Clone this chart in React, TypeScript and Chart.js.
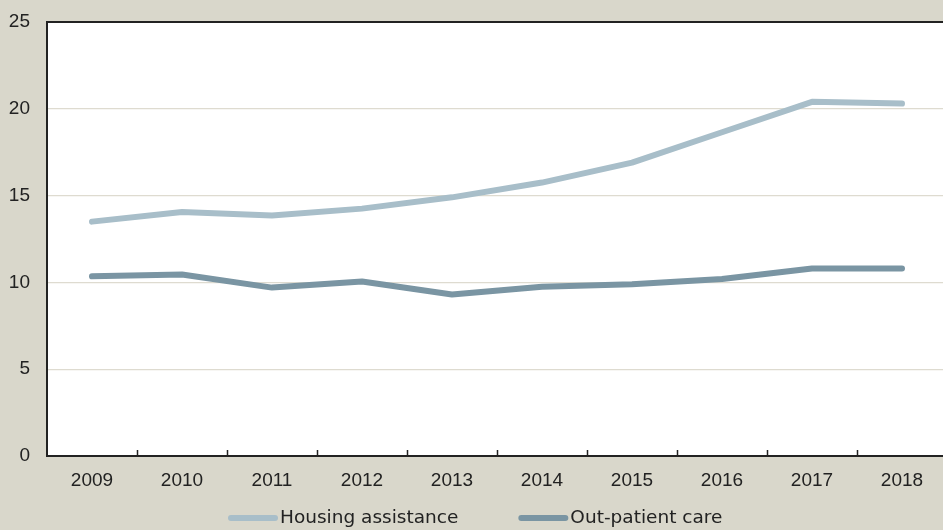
import React, { useEffect, useRef } from "react";
import { Chart, registerables } from "chart.js";

Chart.register(...registerables);

const years = ["2009", "2010", "2011", "2012", "2013", "2014", "2015", "2016", "2017", "2018"];
const housingAssistance = [13.5, 14.05, 13.85, 14.25, 14.9, 15.75, 16.9, 18.65, 20.4, 20.3];
const outPatientCare = [10.35, 10.45, 9.7, 10.05, 9.3, 9.75, 9.9, 10.2, 10.8, 10.8];
const yTicks = [0, 5, 10, 15, 20, 25];

const BG = "#d9d7cb";
const TICK_FONT = "'Liberation Sans', Arial, sans-serif";
const LEGEND_FONT = "'DejaVu Sans', sans-serif";

const insideTicks = {
  id: "insideTicks",
  afterDraw(chart: any) {
    const x = chart.scales.x;
    const ctx = chart.ctx;
    const bottom = chart.chartArea.bottom;
    const step = x.getPixelForValue(1) - x.getPixelForValue(0);
    ctx.save();
    ctx.strokeStyle = "#222";
    ctx.lineWidth = 1.5;
    for (let i = 1; i < years.length; i++) {
      const px = Math.round(x.getPixelForValue(i) - step / 2) + 0.5;
      ctx.beginPath();
      ctx.moveTo(px, bottom);
      ctx.lineTo(px, bottom - 6);
      ctx.stroke();
    }
    ctx.restore();
  },
};

const bgPlugin = {
  id: "bgPlugin",
  beforeDraw(chart: any) {
    const { ctx, chartArea } = chart;
    ctx.save();
    ctx.fillStyle = BG;
    ctx.fillRect(0, 0, chart.width, chart.height);
    ctx.fillStyle = "#ffffff";
    ctx.fillRect(chartArea.left, chartArea.top, chartArea.right - chartArea.left, chartArea.bottom - chartArea.top);
    ctx.restore();
  },
};

const customLegend = {
  id: "customLegend",
  afterDraw(chart: any) {
    const ctx = chart.ctx;
    const ds = chart.data.datasets;
    const swatch = 50;
    const gapText = 2;
    const gapItems = 60;
    const y = 518;
    ctx.save();
    ctx.font = `18.5px ${LEGEND_FONT}`;
    ctx.textBaseline = "middle";
    let x = 228;
    ds.forEach((d: any) => {
      ctx.strokeStyle = d.borderColor;
      ctx.lineWidth = 6;
      ctx.lineCap = "round";
      ctx.beginPath();
      ctx.moveTo(x + 3, y);
      ctx.lineTo(x + swatch - 3, y);
      ctx.stroke();
      ctx.fillStyle = "#222";
      ctx.textAlign = "left";
      ctx.fillText(d.label, x + swatch + gapText, y);
      x += swatch + gapText + ctx.measureText(d.label).width + gapItems;
    });
    ctx.restore();
  },
};

export default function App() {
  const ref = useRef<HTMLCanvasElement>(null);
  useEffect(() => {
    document.body.style.margin = "0";
    document.body.style.overflow = "hidden";
    const chart = new Chart(ref.current!, {
      type: "line",
      data: {
        labels: years,
        datasets: [
          {
            label: "Housing assistance",
            data: housingAssistance,
            borderColor: "#a8bec9",
            backgroundColor: "#a8bec9",
            borderWidth: 6,
            pointRadius: 0,
            borderCapStyle: "round",
            borderJoinStyle: "round",
          },
          {
            label: "Out-patient care",
            data: outPatientCare,
            borderColor: "#7a95a3",
            backgroundColor: "#7a95a3",
            borderWidth: 6,
            pointRadius: 0,
            borderCapStyle: "round",
            borderJoinStyle: "round",
          },
        ],
      },
      options: {
        animation: false,
        responsive: false,
        layout: { padding: { top: 22, left: 0, right: 0, bottom: 0 } },
        plugins: {
          tooltip: { enabled: false },
          legend: { display: false },
        },
        scales: {
          x: {
            offset: true,
            grid: { display: false, drawTicks: false },
            border: { display: true, color: "#222", width: 2 },
            ticks: { font: { family: TICK_FONT, size: 19 }, color: "#222", padding: 13 },
            afterFit(scale: any) {
              scale.height = 74;
              scale.paddingLeft = 0;
              scale.paddingRight = 0;
            },
          },
          y: {
            min: 0,
            max: 25,
            afterBuildTicks(scale: any) {
              scale.ticks = yTicks.map((v) => ({ value: v }));
            },
            grid: {
              drawTicks: false,
              color: (c: any) => (c.tick && c.tick.value === 25 ? "#222" : "#dedbd0"),
              lineWidth: (c: any) => (c.tick && c.tick.value === 25 ? 2 : 1.2),
            },
            border: { display: true, color: "#222", width: 2 },
            ticks: { font: { family: TICK_FONT, size: 19 }, color: "#222", padding: 17 },
            afterFit(scale: any) {
              scale.width = 47;
              scale.paddingTop = 0;
              scale.paddingBottom = 0;
            },
          },
        },
      },
      plugins: [bgPlugin, insideTicks, customLegend],
    } as any);
    return () => chart.destroy();
  }, []);
  return (
    <div style={{ position: "fixed", left: 0, top: 0, width: 943, height: 530, overflow: "hidden", background: BG }}>
      <canvas ref={ref} width={947} height={530} style={{ display: "block" }} />
    </div>
  );
}
